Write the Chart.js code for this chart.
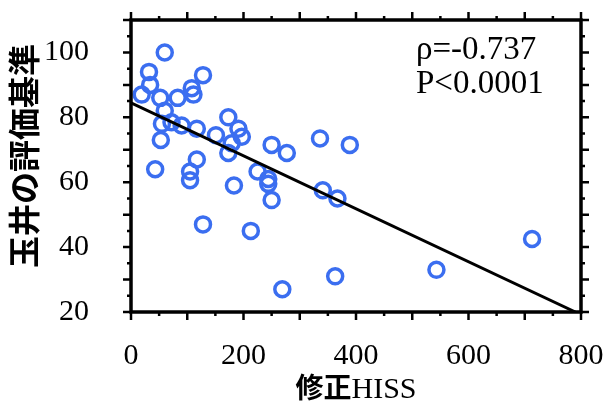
<!DOCTYPE html>
<html>
<head>
<meta charset="utf-8">
<script src="https://cdn.jsdelivr.net/npm/chart.js@4.4.1/dist/chart.umd.min.js"></script>
<style>
  body { margin: 0; background: #fff; }
  canvas { display: block; }
</style>
</head>
<body>
<canvas id="chart" width="603" height="412"></canvas>
<script>
// patients: modified HISS vs Tamai score
const hissX = [60, 32, 34, 19, 52, 83, 108, 111, 128, 60, 55, 72, 90, 53, 117, 151, 173, 191, 197, 179, 173,
  250, 277, 336, 389, 117, 43, 105, 105, 183, 225, 244, 244, 250, 341, 367, 128, 213, 363, 269, 543, 713];
const tamaiY = [100, 94, 90, 87, 86, 86, 89, 87, 93, 82, 78, 78.5, 77.5, 73, 76.5, 74.5, 80, 76.5, 74, 72, 69,
  71.5, 69, 73.5, 71.5, 67, 64, 63.3, 60.6, 59, 63.3, 61, 59.5, 54.5, 57.5, 55, 47, 45, 31, 27, 33, 42.5];

// regression line end points
const fitX = [0, 790];
const fitY = [84.5, 20];

const xTickValues = [0, 200, 400, 600, 800];
const yTickValues = [20, 40, 60, 80, 100];
const statLines = ['ρ=-0.737', 'P<0.0001'];
const xTitleParts = ['修正', 'HISS'];
const yTitleText = '玉井の評価基準';

const serif = '"Liberation Serif", "DejaVu Serif", serif';
const gothic = '"Noto Sans CJK JP", "Noto Sans", sans-serif';

// box, outward ticks, titles, stats
const framePlugin = {
  id: 'frame',
  afterDraw(chart) {
    const { ctx, chartArea: a, scales } = chart;
    const x = scales.x, y = scales.y;
    ctx.save();
    ctx.strokeStyle = '#000';
    ctx.lineWidth = 3.5;
    ctx.strokeRect(a.left, a.top, a.right - a.left, a.bottom - a.top);

    ctx.lineWidth = 2.5;
    ctx.beginPath();
    for (let v = x.min; v <= x.max; v += 50) {
      const px = x.getPixelForValue(v);
      const len = v % 100 === 0 ? 8 : 4;
      ctx.moveTo(px, a.bottom); ctx.lineTo(px, a.bottom + len);
      ctx.moveTo(px, a.top); ctx.lineTo(px, a.top - len);
    }
    for (let v = y.min; v <= y.max; v += 5) {
      const py = y.getPixelForValue(v);
      const len = v % 10 === 0 ? 8 : 4;
      ctx.moveTo(a.left, py); ctx.lineTo(a.left - len, py);
      ctx.moveTo(a.right, py); ctx.lineTo(a.right + len, py);
    }
    ctx.stroke();

    ctx.fillStyle = '#000';
    // x title: bold gothic + serif
    const f1 = 'bold 28px ' + gothic;
    const f2 = '30px ' + serif;
    ctx.font = f1;
    const w1 = ctx.measureText(xTitleParts[0]).width;
    ctx.font = f2;
    const w2 = ctx.measureText(xTitleParts[1]).width;
    const sx = (a.left + a.right) / 2 - (w1 + w2) / 2;
    ctx.textBaseline = 'alphabetic';
    ctx.textAlign = 'left';
    ctx.font = f1;
    ctx.fillText(xTitleParts[0], sx, 398);
    ctx.font = f2;
    ctx.fillText(xTitleParts[1], sx + w1, 398);

    // y title
    ctx.save();
    ctx.translate(24, 156);
    ctx.rotate(-Math.PI / 2);
    ctx.font = 'bold 32px ' + gothic;
    ctx.textAlign = 'center';
    ctx.textBaseline = 'middle';
    ctx.fillText(yTitleText, 0, 0);
    ctx.restore();

    // stats
    ctx.font = '33px ' + serif;
    ctx.textAlign = 'left';
    ctx.fillText(statLines[0], 416, 59);
    ctx.fillText(statLines[1], 416, 93);
    ctx.restore();
  }
};

new Chart(document.getElementById('chart'), {
  type: 'scatter',
  data: {
    datasets: [
      {
        data: hissX.map((v, i) => ({ x: v, y: tamaiY[i] })),
        borderColor: '#3b6ef0',
        backgroundColor: 'rgba(0,0,0,0)',
        borderWidth: 3.5,
        pointRadius: 7.5,
        order: 2
      },
      {
        data: fitX.map((v, i) => ({ x: v, y: fitY[i] })),
        showLine: true,
        borderColor: '#000',
        borderWidth: 3,
        pointRadius: 0,
        order: 1
      }
    ]
  },
  options: {
    responsive: false,
    animation: false,
    events: [],
    layout: { padding: { top: 20, right: 22, left: 0, bottom: 0 } },
    plugins: { legend: { display: false }, tooltip: { enabled: false } },
    scales: {
      x: {
        type: 'linear',
        min: 0,
        max: 800,
        afterBuildTicks: s => { s.ticks = xTickValues.map(v => ({ value: v })); },
        afterFit: s => { s.height = 100; s.paddingLeft = 0; s.paddingRight = 0; },
        grid: { display: false },
        border: { display: false },
        ticks: { padding: 18, color: '#000', font: { family: serif, size: 30 } }
      },
      y: {
        type: 'linear',
        min: 20,
        max: 110,
        afterBuildTicks: s => { s.ticks = yTickValues.map(v => ({ value: v })); },
        afterFit: s => { s.width = 131; s.paddingTop = 0; s.paddingBottom = 0; },
        grid: { display: false },
        border: { display: false },
        ticks: { padding: 34, color: '#000', font: { family: serif, size: 30 } }
      }
    }
  },
  plugins: [framePlugin]
});
</script>
</body>
</html>
